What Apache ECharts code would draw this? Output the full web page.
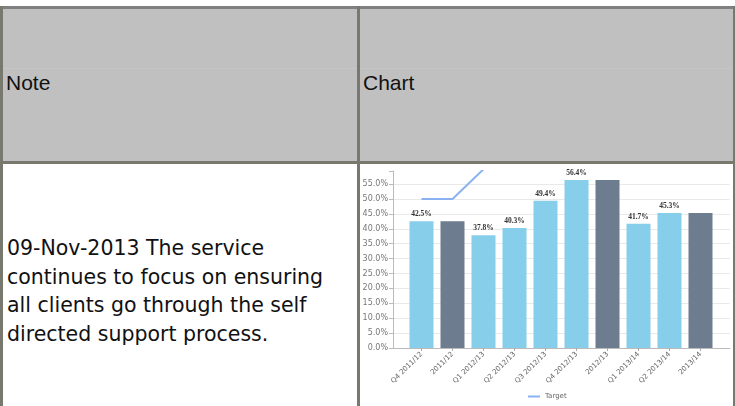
<!DOCTYPE html>
<html>
<head>
<meta charset="utf-8">
<script src="https://cdn.jsdelivr.net/npm/echarts@6/dist/echarts.min.js"></script>
<style>
  html, body { margin: 0; padding: 0; width: 735px; height: 406px; overflow: hidden; background: #fff; }
  .blk { position: absolute; }
  .hdr { position: absolute; font-family: "Liberation Sans", Arial, sans-serif; font-size: 21px; color: #111; line-height: 24px; }
  .note { position: absolute; left: 7px; top: 234px; font-family: "DejaVu Sans", Verdana, sans-serif; font-size: 20.5px; line-height: 28.5px; color: #111; white-space: nowrap; }
  #chart { position: absolute; left: 0; top: 0; width: 735px; height: 406px; }
</style>
</head>
<body>
<!-- table frame -->
<div class="blk" style="left:0;top:6px;width:735px;height:3px;background:#808080"></div>
<div class="blk" style="left:0;top:9px;width:735px;height:152px;background:#c0c0c0"></div>
<div class="blk" style="left:3px;top:68px;width:728px;height:1px;background:#c5c5c5"></div>
<div class="blk" style="left:0;top:161px;width:735px;height:3px;background:#78786f"></div>
<div class="blk" style="left:0;top:6px;width:3px;height:400px;background:#78786f"></div>
<div class="blk" style="left:357px;top:6px;width:3px;height:400px;background:#78786f"></div>
<div class="blk" style="left:733px;top:6px;width:2px;height:400px;background:#78786f"></div>
<div class="hdr" style="left:6px;top:71px">Note</div>
<div class="hdr" style="left:363px;top:71px">Chart</div>
<div class="note">09-Nov-2013 The service<br>continues to focus on ensuring<br>all clients go through the self<br>directed support process.</div>
<div id="chart"></div>
<script>
const categories = ["Q4 2011/12", "2011/12", "Q1 2012/13", "Q2 2012/13", "Q3 2012/13", "Q4 2012/13", "2012/13", "Q1 2013/14", "Q2 2013/14", "2013/14"];
const values = [42.5, 42.5, 37.8, 40.3, 49.4, 56.4, 56.4, 41.7, 45.3, 45.3];
const target = [50, 50, 60, null, null, null, null, null, null, null];
const yTicks = [0, 5, 10, 15, 20, 25, 30, 35, 40, 45, 50, 55];

const isAnnual = name => !/^Q/.test(name);
const chart = echarts.init(document.getElementById('chart'), null, { renderer: 'canvas' });
const yMax = 59.4;
const gridColors = yTicks.map(() => '#e9e9e9').concat(['rgba(0,0,0,0)']);
chart.setOption({
  animation: false,
  grid: [
    { left: 393, right: 5, top: 171, bottom: 58 },
    { left: 406, right: 19, top: 171, bottom: 58 }
  ],
  legend: {
    data: ['Target'], left: 528, top: 393, padding: 0,
    itemWidth: 12, itemHeight: 2,
    icon: 'rect',
    textStyle: { fontSize: 7, color: '#666', fontFamily: 'DejaVu Sans' }
  },
  xAxis: [
    { type: 'value', gridIndex: 0, min: 0, max: 1, axisLine: { show: true, onZero: false, lineStyle: { color: '#bbb', width: 1 } },
      axisTick: { show: false }, axisLabel: { show: false }, splitLine: { show: false } },
    { type: 'category', gridIndex: 1, data: categories,
      axisLine: { show: false }, axisTick: { show: true, alignWithLabel: true, length: 3, lineStyle: { color: '#aaa' } },
      axisLabel: { rotate: 45, fontSize: 7, color: '#666', margin: 5, interval: 0, fontFamily: 'DejaVu Sans' } }
  ],
  yAxis: [
    { type: 'value', gridIndex: 0, min: 0, max: yMax, interval: 5,
      axisLine: { show: true, lineStyle: { color: '#bbb' } },
      axisTick: { show: true, length: 4, lineStyle: { color: '#bbb' } },
      axisLabel: { fontSize: 8, color: '#777', margin: 5, fontFamily: 'DejaVu Sans',
        formatter: v => yTicks.indexOf(v) >= 0 ? v.toFixed(1) + '%' : '' },
      splitLine: { show: true, lineStyle: { color: gridColors } } },
    { type: 'value', gridIndex: 1, min: 0, max: yMax, interval: 5, show: false, splitLine: { show: false } }
  ],
  series: [
    { name: 'Value', type: 'bar', xAxisIndex: 1, yAxisIndex: 1, data: values, barWidth: 24,
      itemStyle: { color: p => isAnnual(p.name) ? '#6d7d8f' : '#87ceeb' },
      label: { show: true, position: 'top', distance: 3, fontSize: 7.5, fontWeight: 'bold', color: '#333',
        fontFamily: 'Liberation Serif',
        formatter: p => isAnnual(p.name) ? '' : p.value.toFixed(1) + '%' } },
    { name: 'Target', type: 'line', xAxisIndex: 1, yAxisIndex: 1, data: target, symbol: 'none',
      clip: true, lineStyle: { color: '#8ab2f2', width: 2 }, itemStyle: { color: '#8ab2f2' } }
  ]
});
</script>
</body>
</html>
